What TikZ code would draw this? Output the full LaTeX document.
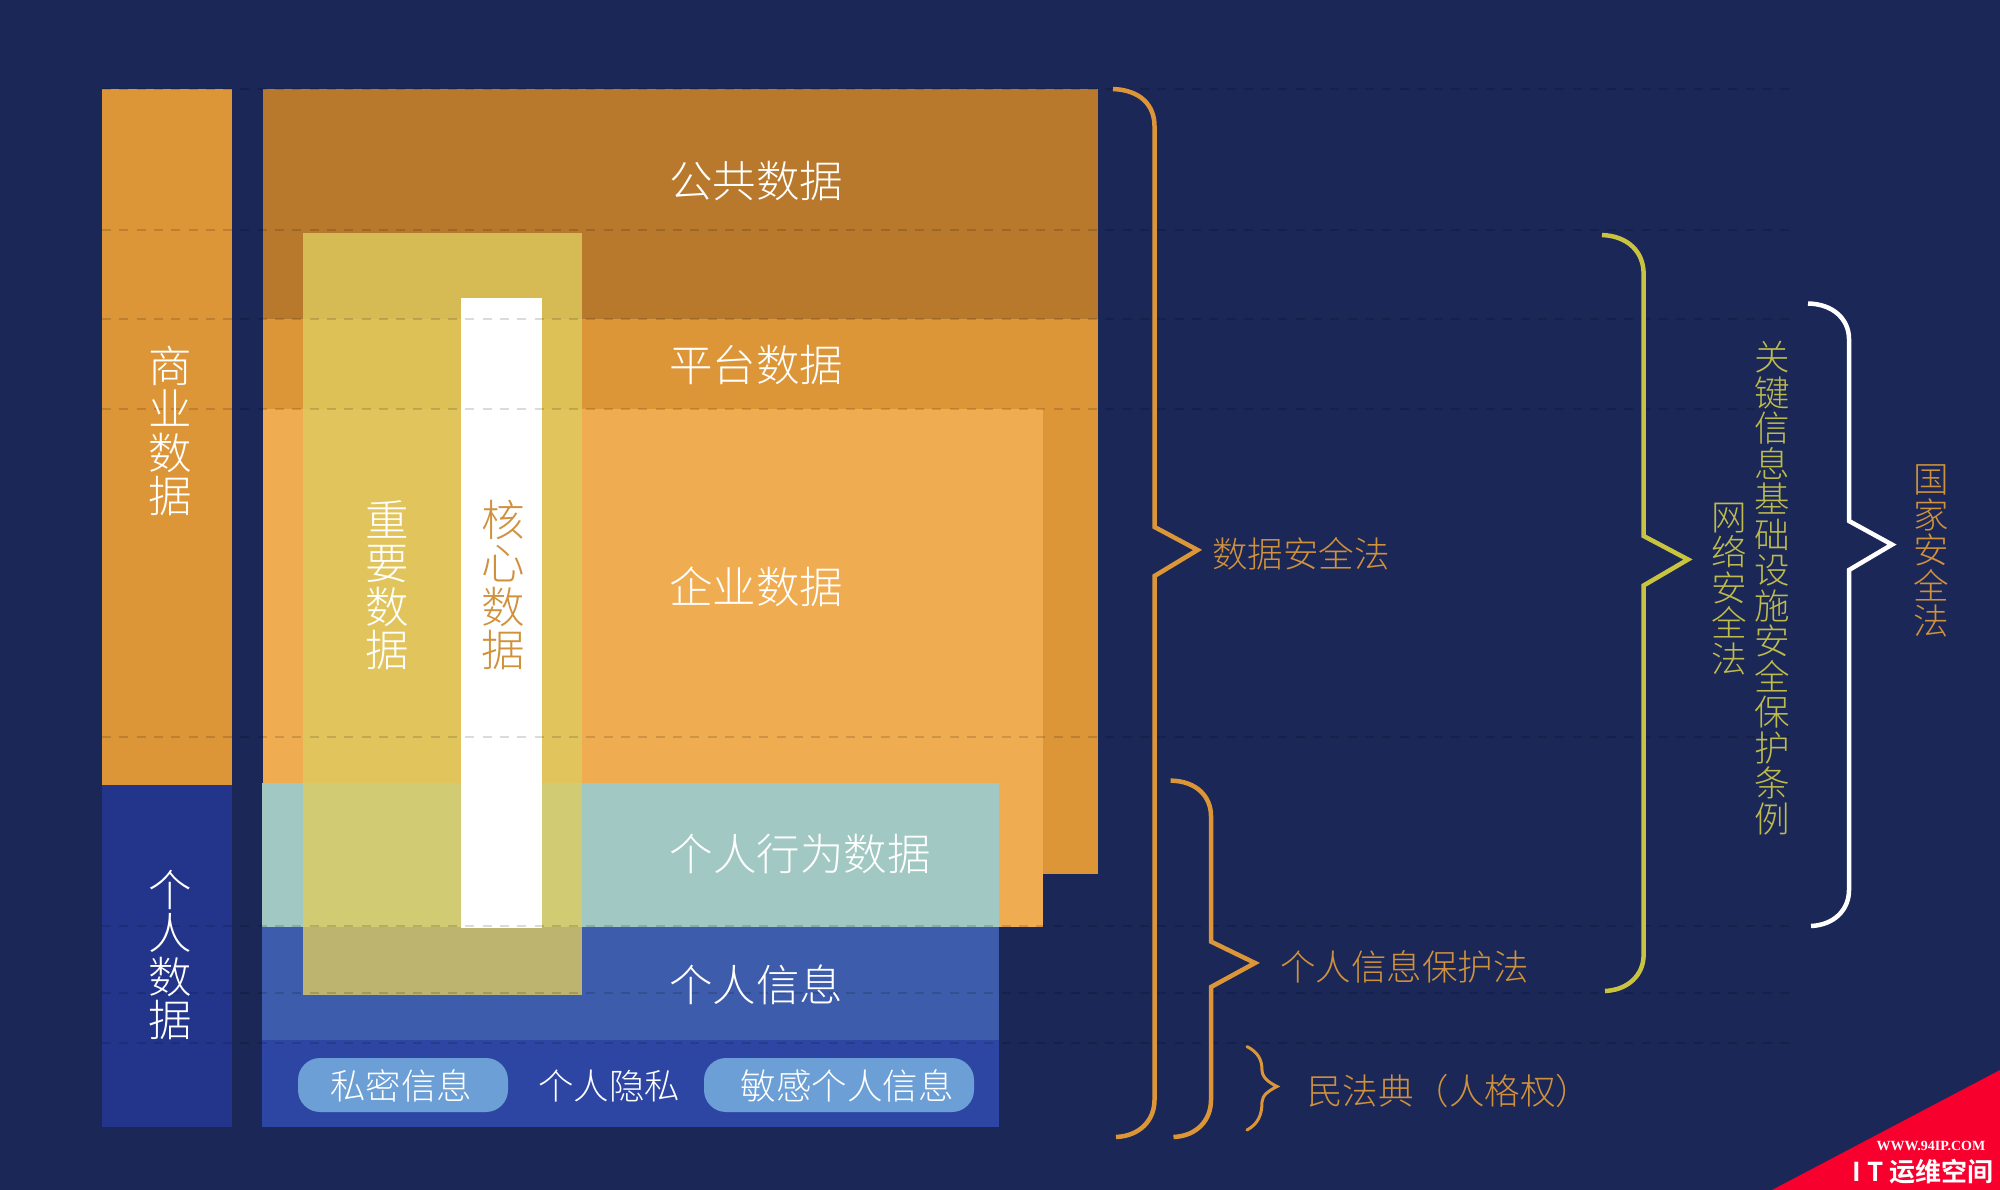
\documentclass[tikz,border=0pt]{standalone}
\usepackage{fontspec}
\setmainfont{Noto Sans CJK SC}[UprightFont={* Light}]
\newfontfamily\boldcjk{Noto Sans CJK SC}[BoldFont={* Bold}]
\newfontfamily\boldlatin{Liberation Serif}
\definecolor{bgnavy}{HTML}{1A2757}
\definecolor{barorange}{HTML}{DC9637}
\definecolor{brownbox}{HTML}{B8792C}
\definecolor{lightorange}{HTML}{F0AC50}
\definecolor{tealbox}{HTML}{A1C8C2}
\definecolor{bluebox}{HTML}{3D5CAB}
\definecolor{deepblue}{HTML}{2E46A3}
\definecolor{barblue}{HTML}{22358B}
\definecolor{pillblue}{HTML}{6C9FD5}
\definecolor{overlayyellow}{HTML}{DECC60}
\definecolor{lawyellow}{HTML}{C9C43F}
\definecolor{lawtext}{HTML}{D0913C}
\definecolor{lawgreen}{HTML}{BDBB4C}
\definecolor{cornerred}{HTML}{F8002E}
\tikzset{
  x=1pt,y=-1pt,
  lbl/.style={inner sep=0pt,text=white,font=\fontsize{43.5}{43.5}\selectfont,align=center},
  small/.style={inner sep=0pt,text=white,font=\fontsize{35.5}{35.5}\selectfont},
  law/.style={inner sep=0pt,text=lawtext,font=\fontsize{35.5}{35.5}\selectfont,align=center},
  pillbox/.style={fill=pillblue,rounded corners=22pt,draw=none},
  brace/.style={line width=4.5pt,line join=miter,line cap=butt},
  dashrow/.style={draw=black,opacity=.14,line width=2.2pt,dash pattern=on 9pt off 8.3pt},
}
\begin{document}
\begin{tikzpicture}
\useasboundingbox (0,0) rectangle (2000,1190);
\fill[bgnavy] (0,0) rectangle (2000,1190);
% left bars
\fill[barorange] (102,89) rectangle (231.5,785);
\fill[barblue] (102,785) rectangle (231.5,1127);
% main boxes
\fill[barorange] (263,319.5) rectangle (1098,874);
\fill[brownbox] (263,89) rectangle (1098,319.5);
\fill[lightorange] (263,409) rectangle (1043,927);
\fill[tealbox] (262,783) rectangle (999,927);
\fill[bluebox] (262,927) rectangle (999,1040);
\fill[deepblue] (262,1040) rectangle (999,1127);
\fill[overlayyellow,opacity=.8] (302.5,233.5) rectangle (582,995);
\fill[white] (461,298) rectangle (542,928);
% dashed rows
\foreach \yy in {89,230,319,409,737,926,993,1043}
  \draw[dashrow] (102,\yy) -- (1792,\yy);
% pills
\node[pillbox,minimum width=210pt,minimum height=54pt,inner sep=0pt] (p1) at (403,1085) {};
\node[pillbox,minimum width=270pt,minimum height=54pt,inner sep=0pt] (p2) at (839,1085) {};
% labels
\node[lbl] (gg) at (756,181) {公共数据};
\node[lbl] (pt) at (756,365) {平台数据};
\node[lbl] (qy) at (756,587) {企业数据};
\node[lbl] (xw) at (800,854) {个人行为数据};
\node[lbl] (xx) at (756,985) {个人信息};
\node[small] (sm) at (401,1086) {私密信息};
\node[small] (ys) at (609,1086) {个人隐私};
\node[small] (mg) at (847,1086) {敏感个人信息};
\node[lbl] (sy) at (170,431) {商\\业\\数\\据};
\node[lbl] (gr) at (170,955) {个\\人\\数\\据};
\node[lbl] (zy) at (387.5,585) {重\\要\\数\\据};
\node[lbl,text=lawtext] (hx) at (503.5,585) {核\\心\\数\\据};
% braces
\draw[brace,barorange] (1113,89) .. controls (1140,90) and (1154.5,105) .. (1154.5,126) -- (1154.5,527) -- (1197.6,550) -- (1154.5,576) -- (1154.5,1100) .. controls (1154.5,1120) and (1140,1136) .. (1116,1137);
\draw[brace,lawyellow] (1602,235) .. controls (1628,236) and (1643.6,252) .. (1643.6,273.6) -- (1643.6,536) -- (1688,559.5) -- (1643.6,585.5) -- (1643.6,955) .. controls (1643.6,975) and (1628,990) .. (1605,991);
\draw[brace,white] (1808,303.5) .. controls (1834,304) and (1849,320) .. (1849,339) -- (1849,521) -- (1892,544.6) -- (1849,570) -- (1849,890) .. controls (1849,910) and (1834,925) .. (1811,926);
\draw[brace,barorange] (1170.6,780.6) .. controls (1197,781) and (1211,797) .. (1211,816) -- (1211,941.6) -- (1255,963) -- (1211,987) -- (1211,1100) .. controls (1211,1120) and (1197,1136) .. (1173.5,1137);
\draw[barorange,line width=3pt,line cap=round] (1247,1046.6) .. controls (1258,1052) and (1262,1060) .. (1262,1070) .. controls (1262,1078) and (1270,1083) .. (1277,1086.5) .. controls (1270,1090) and (1262,1095) .. (1262,1102) .. controls (1262,1115) and (1258,1124) .. (1247,1130);
% law labels
\node[law] (sj) at (1301,554) {数据安全法};
\node[law] (gb) at (1404.5,967) {个人信息保护法};
\node[law,anchor=west] (mf) at (1307,1091) {民法典（人格权）};
\node[law,text=lawgreen] (wl) at (1729.6,589) {网\\络\\安\\全\\法};
\node[law,text=lawgreen] (gj) at (1772.6,588) {关\\键\\信\\息\\基\\础\\设\\施\\安\\全\\保\\护\\条\\例};
\node[law] (gjaq) at (1931.6,551) {国\\家\\安\\全\\法};
% corner
\fill[cornerred] (1772,1190) -- (2000,1070) -- (2000,1190) -- cycle;
\node[inner sep=0pt,text=white,font=\boldlatin\bfseries\fontsize{14}{14}\selectfont] (www) at (1931,1146) {WWW.94IP.COM};
\node[inner sep=0pt,text=white,font=\boldcjk\bfseries\fontsize{26}{26}\selectfont] (it) at (1923,1172) {I T 运维空间};
\end{tikzpicture}
\end{document}
